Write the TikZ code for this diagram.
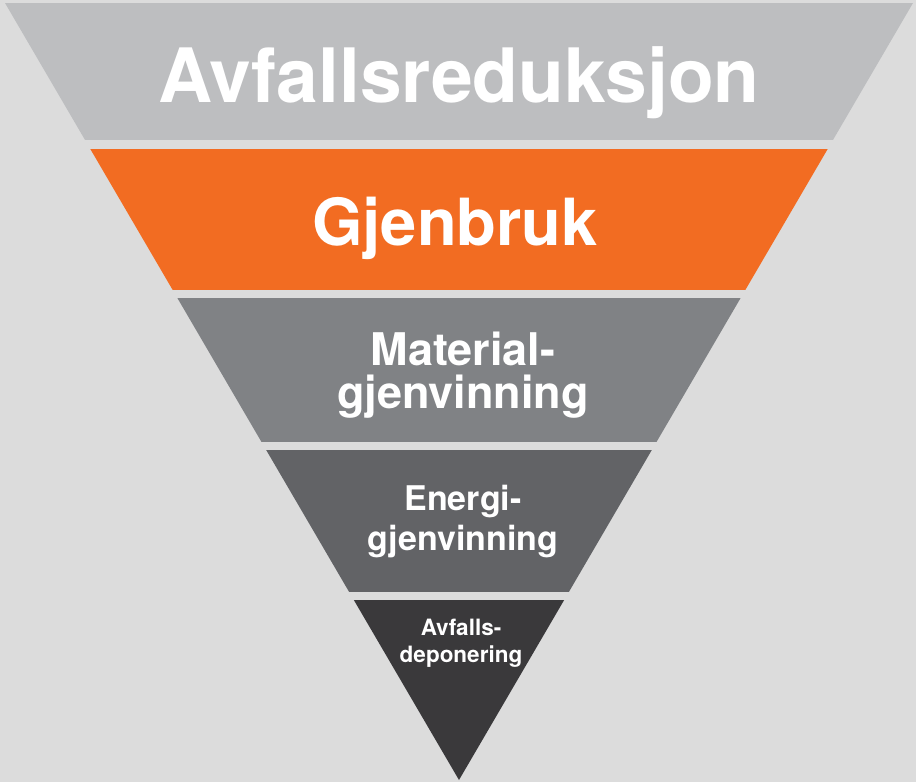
\documentclass[tikz,border=0pt]{standalone}
\usepackage{fontspec}
\setmainfont{TeX Gyre Heros}
\definecolor{bgc}{HTML}{DCDCDC}
\definecolor{bandA}{HTML}{BDBEC0}
\definecolor{bandB}{HTML}{F26C22}
\definecolor{bandC}{HTML}{808285}
\definecolor{bandD}{HTML}{626366}
\definecolor{bandE}{HTML}{3A393B}
\tikzset{
  lbl/.style={text=white, inner sep=0pt, align=center, anchor=base},
}
\begin{document}
\begin{tikzpicture}[x=1pt,y=-1pt]
\fill[bgc] (0,0) rectangle (916,782);
\useasboundingbox (0,0) rectangle (916,782);
\begin{scope}
\clip (5,3) -- (913,3) -- (459,780) -- cycle;
\fill[bandA] (0,3) rectangle (916,140);
\fill[bandB] (0,149) rectangle (916,290);
\fill[bandC] (0,298) rectangle (916,442);
\fill[bandD] (0,450) rectangle (916,592);
\fill[bandE] (0,600) rectangle (916,782);
\end{scope}
\node[lbl, font=\bfseries\fontsize{75}{75}\selectfont] (t1) at (459,102) {Avfallsreduksjon};
\node[lbl, font=\bfseries\fontsize{65}{65}\selectfont] (t2) at (455,245) {Gjenbruk};
\node[lbl, font=\bfseries\fontsize{45}{43}\selectfont] (t3) at (463,408) {Material-\\gjenvinning};
\node[lbl, font=\bfseries\fontsize{34}{40}\selectfont] (t4) at (463,550) {Energi-\\gjenvinning};
\node[lbl, font=\bfseries\fontsize{22.5}{27}\selectfont] (t5) at (461,662) {Avfalls-\\deponering};
\end{tikzpicture}
\end{document}
